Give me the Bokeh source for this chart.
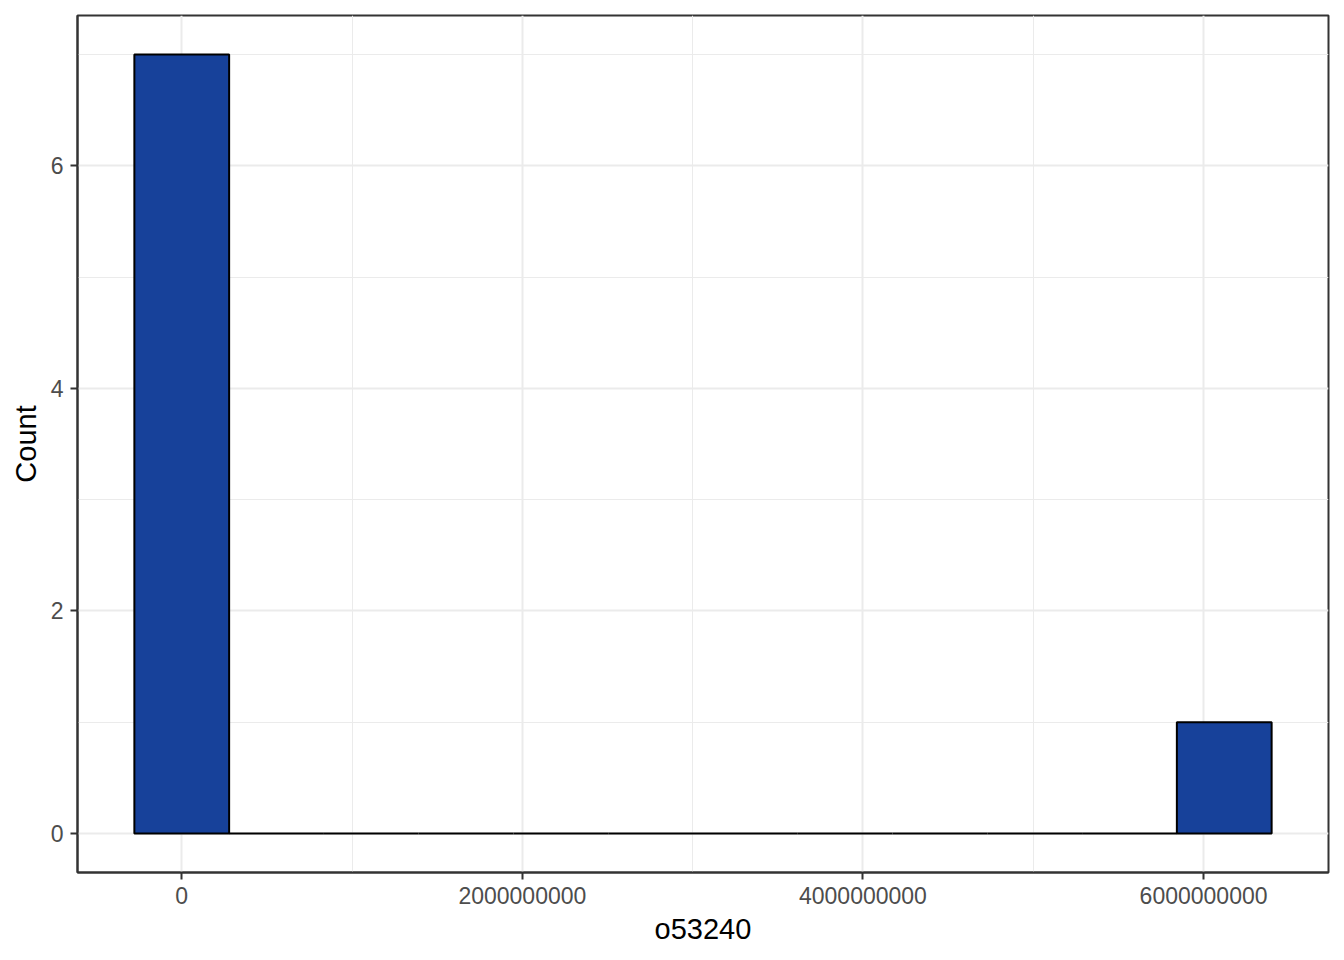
from bokeh.plotting import figure
from bokeh.models import Range1d, FixedTicker
from bokeh.embed import file_html
from bokeh.resources import INLINE

# ---- data ----
counts = [7, 0, 0, 0, 0, 0, 0, 0, 0, 0, 0, 1]
first_center = 0.0
bin_width = 0.5565e9
x_ticks = [0, 2e9, 4e9, 6e9]
x_tick_labels = ["0", "2000000000", "4000000000", "6000000000"]
x_minor = [1e9, 3e9, 5e9]
y_ticks = [0, 2, 4, 6]
y_tick_labels = ["0", "2", "4", "6"]
y_minor = [1, 3, 5, 7]
x_title = "o53240"
y_title = "Count"

n = len(counts)
lefts = [first_center + (i - 0.5) * bin_width for i in range(n)]
rights = [first_center + (i + 0.5) * bin_width for i in range(n)]
bottoms = [0] * n

span_x = rights[-1] - lefts[0]
x0 = lefts[0] - 0.05 * span_x
x1 = rights[-1] + 0.05 * span_x
ymax = max(counts)
y0 = -0.05 * ymax
y1 = ymax * 1.05

p = figure(
    output_backend="svg", toolbar_location=None,
    frame_width=1251, frame_height=857,
    min_border_left=77, min_border_top=15, min_border_right=10, min_border_bottom=78,
    x_range=Range1d(x0, x1), y_range=Range1d(y0, y1),
    background_fill_color="white", border_fill_color="white",
)

p.quad(left=lefts, right=rights, bottom=bottoms, top=counts,
       fill_color="#17419A", line_color="black", line_width=2)

p.xaxis.ticker = FixedTicker(ticks=x_ticks, minor_ticks=x_minor)
p.yaxis.ticker = FixedTicker(ticks=y_ticks, minor_ticks=y_minor)
p.xaxis.major_label_overrides = {t: l for t, l in zip(x_ticks, x_tick_labels)}
p.yaxis.major_label_overrides = {t: l for t, l in zip(y_ticks, y_tick_labels)}

for g in (p.xgrid, p.ygrid):
    g.grid_line_color = "#EBEBEB"
    g.grid_line_width = 2
    g.minor_grid_line_color = "#EBEBEB"
    g.minor_grid_line_width = 1

for ax in (p.xaxis, p.yaxis):
    ax.axis_line_color = "#333333"
    ax.axis_line_width = 2
    ax.major_tick_line_color = "#333333"
    ax.major_tick_line_width = 2
    ax.major_tick_out = 7
    ax.major_tick_in = 0
    ax.minor_tick_line_color = None
    ax.major_label_text_font = "Liberation Sans"
    ax.major_label_text_font_size = "23px"
    ax.major_label_text_color = "#4D4D4D"
    ax.axis_label_text_font = "Liberation Sans"
    ax.axis_label_text_font_size = "29px"
    ax.axis_label_text_font_style = "normal"
    ax.axis_label_text_color = "black"
    ax.major_label_standoff = 7

p.xaxis.axis_label = x_title
p.yaxis.axis_label = y_title
p.xaxis.axis_label_standoff = 6
p.yaxis.axis_label_standoff = 6

p.outline_line_color = "#333333"
p.outline_line_width = 2
p.outline_line_alpha = 1

open("out.html", "w").write(file_html(p, INLINE))
